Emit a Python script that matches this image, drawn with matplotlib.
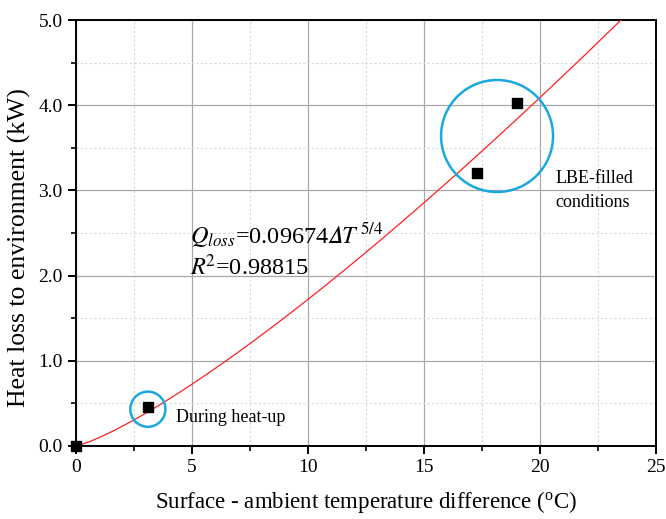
import numpy as np
import matplotlib
matplotlib.use("Agg")
import matplotlib.pyplot as plt
from matplotlib.ticker import MultipleLocator, FormatStrFormatter

plt.rcParams['font.family'] = ['Liberation Serif', 'DejaVu Serif']
plt.rcParams['mathtext.fontset'] = 'stix'

# measured points
dT = [0.0, 3.1, 17.3, 19.0]
Q = [0.0, 0.46, 3.2, 4.03]

# fit Q = a * dT^(5/4)
a = 0.09674
r2 = 0.98815
x_fit = np.linspace(0, 23.5, 300)
y_fit = a * x_fit ** 1.25

# highlighted groups (centre x, centre y)
groups_x = [3.1, 18.15]
groups_y = [0.43, 3.64]
groups_size = [640, 6500]

fig = plt.figure(figsize=(6.66, 5.19), dpi=100)
ax = fig.add_axes([0.114, 0.141, 0.871, 0.82])

ax.plot(x_fit, y_fit, color='#ff2020', lw=0.9, zorder=3)
ax.scatter(dT, Q, marker='s', s=60, color='black', zorder=4, clip_on=False)
ax.scatter(groups_x, groups_y, s=groups_size, facecolors='none',
           edgecolors='#1ba7e0', linewidths=1.8, zorder=5)

ax.set_xlim(0, 25)
ax.set_ylim(0, 5)
ax.xaxis.set_major_locator(MultipleLocator(5))
ax.xaxis.set_minor_locator(MultipleLocator(2.5))
ax.yaxis.set_major_locator(MultipleLocator(1))
ax.yaxis.set_minor_locator(MultipleLocator(0.5))
ax.yaxis.set_major_formatter(FormatStrFormatter('%.1f'))

ax.grid(which='major', color='#a8a8a8', lw=0.9)
ax.grid(which='minor', color='#d8d8d8', lw=0.8, ls=(0, (2, 2)))
ax.set_axisbelow(True)

for s in ax.spines.values():
    s.set_linewidth(1.4)
ax.tick_params(which='major', direction='out', length=6, width=1.4, labelsize=14,
               top=False, right=False)
ax.tick_params(which='minor', direction='out', length=3.5, width=1.2,
               top=False, right=False)

ax.set_xlabel('Surface - ambient temperature difference ($\\mathregular{^oC}$)',
              fontsize=16.5, labelpad=9)
ax.set_ylabel('Heat loss to environment (kW)', fontsize=18.5)
ax.yaxis.set_label_coords(-0.077, 0.465)

ax.text(4.9, 2.38, '$Q_{loss}$=0.09674$\U0001D6E5T^{\\,\\mathrm{5/4}}$',
        fontsize=17.5)
ax.text(4.9, 2.0, '$R^{\\!\\mathrm{2}}$=0.98815', fontsize=17.5)
ax.text(4.3, 0.33, 'During heat-up', fontsize=13, va='center')
ax.text(20.65, 3.0, 'LBE-filled\nconditions', fontsize=13, va='center',
        linespacing=1.5)

fig.savefig('out.png', dpi=100)
